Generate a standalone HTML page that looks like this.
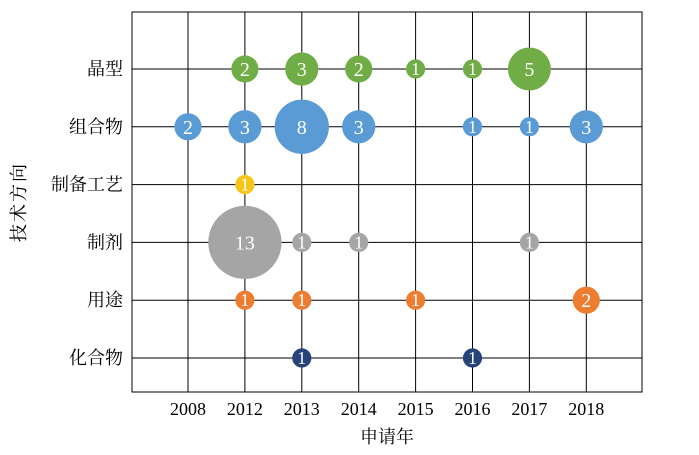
<!DOCTYPE html>
<html><head><meta charset="utf-8"><style>
body{margin:0;background:#fff;}
svg text{font-family:"Liberation Serif","Noto Serif CJK SC",serif;}
</style></head><body>
<svg id="chart" width="699" height="450" viewBox="0 0 699 450" xmlns="http://www.w3.org/2000/svg">
<g id="grid"></g><g id="marks"></g><g id="labels"></g>
<text x="387" y="443" font-size="18" text-anchor="middle">申请年</text>
<text transform="translate(25,202) rotate(-90)" font-size="18" text-anchor="middle" letter-spacing="2">技术方向</text>
</svg>
<script>
const years = ["2008","2012","2013","2014","2015","2016","2017","2018"];
const categories = ["化合物","用途","制剂","制备工艺","组合物","晶型"];
const colors = ["#264478","#ED7D31","#A5A5A5","#F5C518","#5B9BD5","#70AD47"];
// values[category][year]; 0 = none
const values = [
 [0,0,1,0,0,1,0,0],
 [0,1,1,0,1,0,0,2],
 [0,13,1,1,0,0,1,0],
 [0,1,0,0,0,0,0,0],
 [2,3,8,3,0,1,1,3],
 [0,2,3,2,1,1,5,0]
];
const ns="http://www.w3.org/2000/svg";
const L=132,R=642,T=12,B=392;
const xs=i=>188+i*56.9;
const ys=j=>358-j*57.8;
const rs=v=>9.6*Math.sqrt(v)+(v>10?2:0);
const grid=document.getElementById('grid'),marks=document.getElementById('marks'),labels=document.getElementById('labels');
function mk(tag,attrs,parent){const e=document.createElementNS(ns,tag);for(const k in attrs)e.setAttribute(k,attrs[k]);parent.appendChild(e);return e;}
const frame=mk('rect',{x:L,y:T,width:R-L,height:B-T,fill:'none',stroke:'#000','stroke-width':1},grid);


years.forEach((y,i)=>{
 const l=mk('line',{x1:xs(i),x2:xs(i),y1:T,y2:B,stroke:'#000','stroke-width':1},grid);
 
 
 const t=mk('text',{x:xs(i),y:415,'font-size':18,'text-anchor':'middle'},labels);t.textContent=y;
 
 
});
categories.forEach((c,j)=>{
 const l=mk('line',{x1:L,x2:R,y1:ys(j),y2:ys(j),stroke:'#000','stroke-width':1},grid);
 
 
 const t=mk('text',{x:123,y:ys(j)+6,'font-size':18,'text-anchor':'end'},labels);t.textContent=c;
 
 
});
values.forEach((row,j)=>row.forEach((v,i)=>{
 if(!v)return;
 const r=rs(v);
 const c=mk('circle',{cx:xs(i),cy:ys(j),r:r,fill:colors[j]},marks);
 
 
 const t=mk('text',{x:xs(i),y:ys(j)+(v>=2?7:6),'font-size':v>=2?20:18,'text-anchor':'middle',fill:'#fff'},marks);
 t.textContent=v;
 
 
}));
</script>
</body></html>
